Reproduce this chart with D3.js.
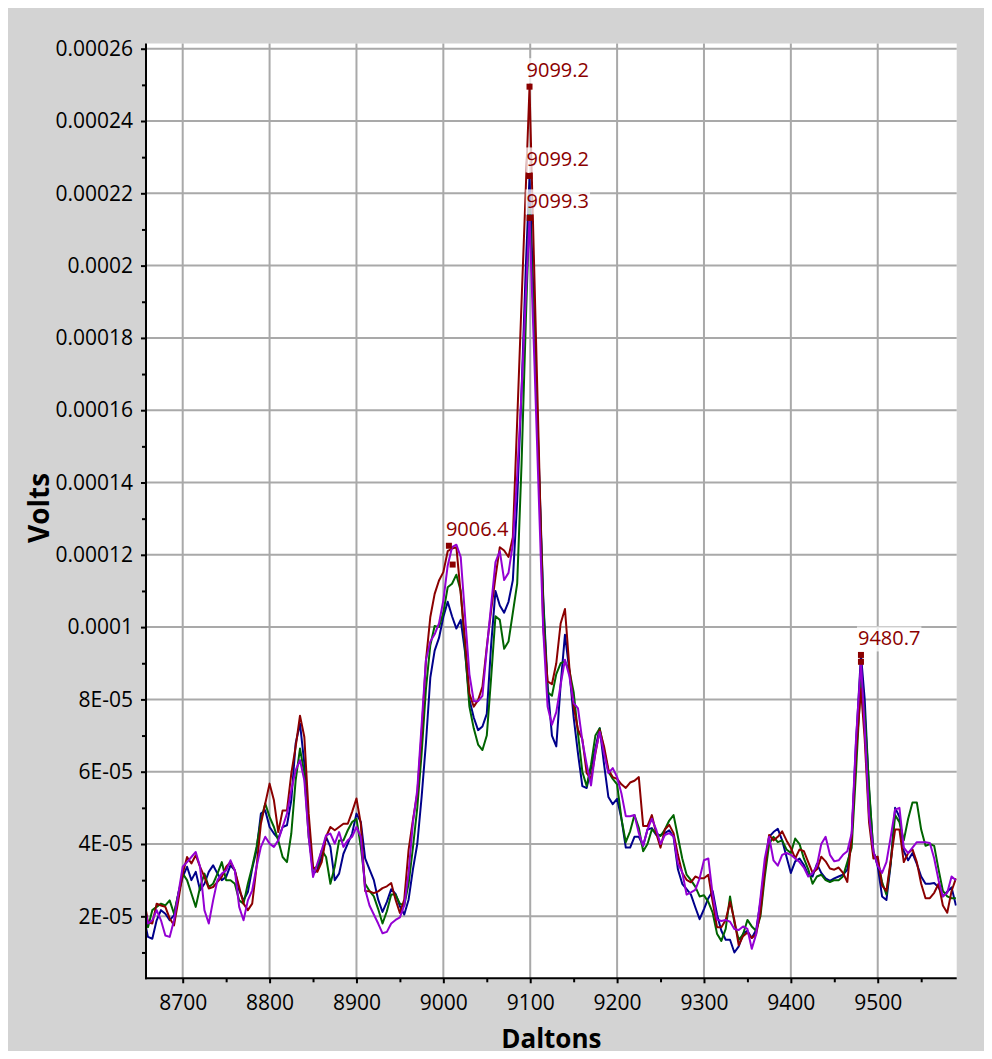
<!DOCTYPE html>
<html>
<head>
<meta charset="utf-8">
<script src="https://cdn.jsdelivr.net/npm/d3@7"></script>
<style>
  html, body { margin: 0; padding: 0; background: #ffffff; }
  svg { display: block; font-family: "Open Sans", "Noto Sans", sans-serif; }
</style>
</head>
<body>
<svg id="chart" width="992" height="1059"></svg>
<script>
// Spectrum intensities are stored in units of 1e-5 V.
const UNIT = 1e-5;

// Mass axis samples (Da)
const masses = [
  8655, 8660, 8665, 8670, 8675, 8680, 8685, 8690, 8695, 8700, 8705, 8710, 8715, 8720, 8725, 8730, 8735, 8740, 8745, 8750,
  8755, 8760, 8765, 8770, 8775, 8780, 8785, 8790, 8795, 8800, 8805, 8810, 8815, 8820, 8825, 8830, 8835, 8840, 8845, 8850,
  8855, 8860, 8865, 8870, 8875, 8880, 8885, 8890, 8895, 8900, 8905, 8910, 8915, 8920, 8925, 8930, 8935, 8940, 8945, 8950,
  8955, 8960, 8965, 8970, 8975, 8980, 8985, 8990, 8995, 9000, 9005, 9010, 9015, 9020, 9025, 9030, 9035, 9040, 9045, 9050,
  9055, 9060, 9065, 9070, 9075, 9080, 9085, 9090, 9095, 9099.2, 9105, 9110, 9115, 9120, 9125, 9130, 9135, 9140, 9145, 9150,
  9155, 9160, 9165, 9170, 9175, 9180, 9185, 9190, 9195, 9200, 9205, 9210, 9215, 9220, 9225, 9230, 9235, 9240, 9245, 9250,
  9255, 9260, 9265, 9270, 9275, 9280, 9285, 9290, 9295, 9300, 9305, 9310, 9315, 9320, 9325, 9330, 9335, 9340, 9345, 9350,
  9355, 9360, 9365, 9370, 9375, 9380, 9385, 9390, 9395, 9400, 9405, 9410, 9415, 9420, 9425, 9430, 9435, 9440, 9445, 9450,
  9455, 9460, 9465, 9470, 9475, 9480.7, 9485, 9490, 9495, 9500, 9505, 9510, 9515, 9520, 9525, 9530, 9535, 9540, 9545, 9550,
  9555, 9560, 9565, 9570, 9575, 9580, 9585, 9590
];

// Trace 1 (dark blue)
const traceBlue = [
  2.00, 1.43, 1.38, 1.89, 2.17, 2.07, 1.89, 2.03, 2.63, 3.09, 3.37, 3.00, 3.23, 2.72, 2.90, 3.23, 3.41, 3.18, 3.00, 3.09,
  3.41, 3.27, 2.72, 2.44, 2.67, 3.32, 3.83, 4.84, 4.93, 4.47, 4.29, 4.15, 4.47, 4.52, 5.21, 6.78, 7.33, 6.22, 4.38, 3.18,
  3.27, 3.64, 4.20, 3.92, 3.00, 3.18, 3.73, 4.01, 4.29, 4.84, 4.61, 3.60, 3.30, 3.00, 2.46, 2.12, 2.40, 2.75, 2.62, 2.28,
  2.05, 2.46, 3.30, 4.00, 5.30, 6.80, 8.60, 9.35, 9.70, 10.28, 10.70, 10.30, 9.96, 10.20, 9.30, 8.00, 7.50, 7.15, 7.25, 7.60,
  9.50, 11.00, 10.60, 10.40, 10.70, 11.30, 13.50, 16.50, 20.00, 22.48, 18.20, 14.50, 10.80, 8.40, 7.00, 6.70, 8.40, 9.79, 8.80, 7.50,
  6.50, 5.60, 5.55, 6.10, 6.65, 7.20, 6.20, 5.30, 5.10, 5.25, 4.70, 3.90, 3.90, 4.20, 4.20, 3.95, 4.40, 4.44, 4.25, 4.25,
  4.30, 4.38, 4.20, 3.30, 2.90, 2.75, 2.60, 2.25, 1.92, 2.20, 2.50, 2.70, 2.05, 1.60, 1.35, 1.35, 1.00, 1.17, 1.52, 1.60,
  1.40, 1.62, 2.40, 3.40, 4.20, 4.33, 4.42, 4.10, 3.65, 3.20, 3.52, 3.60, 3.42, 3.15, 3.10, 3.45, 3.20, 3.05, 2.98, 3.05,
  3.10, 3.15, 3.29, 4.20, 6.80, 9.23, 8.00, 5.50, 3.80, 3.38, 2.55, 2.45, 3.45, 5.00, 4.75, 3.80, 3.55, 3.75, 3.45, 3.10,
  2.90, 2.90, 2.92, 2.80, 2.55, 2.68, 2.80, 2.30
];

// Trace 2 (dark green)
const traceGreen = [
  2.00, 1.70, 2.17, 2.26, 2.35, 2.30, 2.44, 2.07, 2.63, 3.18, 3.00, 2.63, 2.26, 2.81, 3.18, 2.81, 2.90, 3.18, 3.50, 3.00,
  3.00, 2.90, 2.44, 2.35, 2.90, 3.37, 3.92, 4.66, 5.12, 4.75, 4.47, 4.10, 3.64, 3.50, 4.29, 5.76, 6.64, 5.95, 4.20, 3.32,
  3.37, 3.83, 3.64, 2.90, 3.37, 4.10, 4.10, 4.38, 4.61, 4.70, 3.92, 2.90, 2.70, 2.55, 2.20, 1.80, 2.14, 2.60, 2.60, 2.35,
  2.30, 2.90, 3.90, 5.00, 6.50, 8.30, 9.50, 10.03, 10.00, 10.40, 11.10, 11.20, 11.45, 11.00, 9.40, 7.80, 7.20, 6.75, 6.60, 7.00,
  8.60, 10.30, 10.20, 9.40, 9.60, 10.40, 11.20, 14.50, 18.50, 21.60, 17.90, 14.30, 10.70, 8.20, 8.10, 8.70, 9.00, 9.05, 8.80, 8.20,
  7.05, 6.00, 5.60, 6.20, 7.00, 7.20, 6.60, 6.00, 5.80, 5.65, 4.70, 4.05, 4.35, 4.80, 4.45, 3.80, 4.00, 4.40, 4.30, 4.22,
  4.40, 4.65, 4.80, 4.20, 3.60, 3.15, 3.00, 2.82, 2.55, 2.58, 2.40, 2.10, 1.52, 1.32, 1.65, 2.55, 1.82, 1.35, 1.50, 1.90,
  1.72, 1.60, 2.00, 3.10, 4.00, 4.20, 4.05, 4.10, 3.85, 3.75, 4.15, 4.00, 3.60, 3.30, 2.90, 3.10, 3.15, 3.00, 2.95, 3.00,
  3.00, 3.10, 3.50, 3.90, 6.00, 8.60, 7.60, 5.60, 3.75, 3.55, 2.95, 2.60, 3.50, 4.80, 4.60, 4.10, 4.70, 5.15, 5.15, 4.40,
  3.95, 4.00, 3.95, 3.30, 2.70, 2.55, 2.50, 2.50
];

// Trace 3 (dark red)
const traceRed = [
  2.55, 1.84, 1.80, 2.35, 2.30, 2.26, 1.94, 1.75, 2.44, 3.18, 3.64, 3.46, 3.69, 3.37, 3.09, 2.77, 2.81, 2.95, 3.09, 3.37,
  3.50, 3.27, 2.81, 2.35, 2.17, 2.35, 3.37, 4.56, 5.12, 5.67, 5.21, 4.33, 4.93, 4.93, 5.95, 6.69, 7.55, 6.96, 4.84, 3.37,
  3.23, 3.50, 4.20, 4.47, 4.38, 4.47, 4.56, 4.56, 4.89, 5.26, 4.56, 2.70, 2.69, 2.64, 2.69, 2.78, 2.83, 2.92, 2.46, 2.09,
  2.46, 3.84, 4.67, 5.40, 7.06, 9.08, 10.28, 10.92, 11.29, 11.52, 12.10, 12.17, 12.21, 10.92, 9.64, 8.16, 7.80, 7.98, 8.35, 9.45,
  10.46, 11.38, 12.21, 12.12, 11.94, 12.49, 15.70, 18.98, 22.20, 24.95, 19.53, 14.85, 10.00, 8.50, 8.42, 9.00, 10.10, 10.50, 8.90, 7.80,
  7.16, 6.90, 5.96, 5.80, 6.50, 7.15, 6.70, 6.06, 5.85, 5.80, 5.65, 5.55, 5.70, 5.75, 5.85, 4.50, 4.50, 4.80, 4.30, 3.90,
  4.40, 4.53, 4.30, 3.70, 3.20, 3.01, 2.94, 3.10, 3.05, 3.05, 3.15, 2.40, 1.70, 1.70, 1.90, 2.40, 1.90, 1.20, 1.45, 1.55,
  1.40, 1.50, 2.10, 3.30, 4.25, 4.10, 4.20, 4.35, 4.10, 3.89, 3.60, 3.85, 3.80, 3.50, 3.20, 3.30, 3.65, 3.52, 3.32, 3.29,
  3.35, 3.20, 2.95, 4.20, 6.50, 8.30, 6.90, 4.60, 3.60, 3.65, 2.85, 2.70, 3.55, 4.40, 4.40, 3.50, 3.75, 3.85, 3.50, 2.90,
  2.50, 2.50, 2.65, 2.90, 2.30, 2.10, 2.70, 3.05
];

// Trace 4 (violet)
const traceViolet = [
  2.40, 1.80, 1.89, 2.17, 1.89, 1.47, 1.43, 1.89, 2.63, 3.37, 3.50, 3.64, 3.78, 3.37, 2.17, 1.80, 2.44, 3.00, 3.18, 3.27,
  3.55, 3.27, 2.26, 1.89, 2.44, 2.72, 3.37, 3.92, 4.20, 4.01, 3.92, 4.10, 4.47, 4.84, 5.49, 6.04, 6.32, 5.76, 4.20, 3.09,
  3.46, 3.83, 4.24, 4.29, 4.01, 4.33, 3.92, 4.10, 4.20, 4.47, 4.20, 2.74, 2.30, 2.05, 1.80, 1.53, 1.57, 1.80, 1.90, 1.97,
  2.30, 3.20, 4.60, 5.50, 7.30, 9.10, 9.60, 9.80, 10.10, 10.74, 11.70, 12.21, 12.28, 11.94, 10.30, 8.70, 7.95, 7.95, 8.10, 9.40,
  10.60, 11.80, 12.10, 11.30, 11.50, 12.30, 14.20, 16.50, 19.20, 21.32, 17.20, 13.50, 9.90, 7.80, 7.30, 7.65, 8.40, 9.10, 8.65, 7.90,
  7.75, 6.85, 6.20, 5.62, 6.55, 7.10, 6.50, 5.96, 6.10, 5.85, 5.40, 4.77, 4.77, 4.80, 4.30, 3.95, 4.40, 4.70, 4.40, 4.00,
  4.25, 4.30, 4.21, 3.45, 3.22, 2.60, 2.66, 2.73, 3.05, 3.55, 3.60, 2.60, 1.91, 1.87, 1.90, 1.85, 1.65, 1.62, 1.72, 1.65,
  1.10, 1.50, 2.50, 3.60, 4.20, 3.55, 3.40, 3.70, 3.75, 3.70, 3.60, 3.50, 3.35, 3.10, 3.20, 3.40, 4.00, 4.20, 3.70, 3.52,
  3.55, 3.70, 3.80, 4.30, 6.90, 9.04, 7.20, 4.80, 3.80, 3.40, 3.20, 3.50, 4.20, 4.95, 5.00, 3.90, 3.75, 3.90, 4.05, 4.05,
  4.05, 4.03, 3.60, 3.00, 2.55, 2.65, 3.10, 3.00
];

const traces = [traceBlue, traceGreen, traceRed, traceViolet];
const traceColors = ["#00008b", "#006400", "#8b0000", "#9400d3"];

// Picked peaks: mass (Da), height (1e-5 V), label
const peakMasses = [9099.2, 9099.2, 9099.3, 9006.4, 9010.7, 9480.7, 9480.7];
const peakHeights = [24.95, 22.48, 21.32, 12.25, 11.73, 9.23, 9.04];
const peakLabels = ["9099.2", "9099.2", "9099.3", "9006.4", "", "9480.7", ""];

// Axis ticks
const massTicks = [8700, 8800, 8900, 9000, 9100, 9200, 9300, 9400, 9500];
const massMinorTicks = [8750, 8850, 8950, 9050, 9150, 9250, 9350, 9450, 9550];
const voltTicks = [2, 4, 6, 8, 10, 12, 14, 16, 18, 20, 22, 24, 26];
const voltTickLabels = ["2E-05", "4E-05", "6E-05", "8E-05", "0.0001", "0.00012", "0.00014",
                        "0.00016", "0.00018", "0.0002", "0.00022", "0.00024", "0.00026"];
const voltMinorTicks = [1, 3, 5, 7, 9, 11, 13, 15, 17, 19, 21, 23, 25];

const W = 992, H = 1059;
const plot = { left: 146, right: 956.7, top: 43.5, bottom: 978.3 };

const svg = d3.select("#chart");

// Panel background
svg.append("rect").attr("x", 8).attr("y", 8).attr("width", W - 16).attr("height", H - 16)
  .attr("fill", "#d3d3d3");
svg.append("rect").attr("x", plot.left).attr("y", plot.top)
  .attr("width", plot.right - plot.left).attr("height", plot.bottom - plot.top)
  .attr("fill", "#ffffff");

const x = d3.scaleLinear().domain([8657.75, 9590.9]).range([plot.left, plot.right]);
const y = d3.scaleLinear().domain([0.285 * UNIT, 26.144 * UNIT]).range([plot.bottom, plot.top]);

// Grid
const grid = svg.append("g").attr("class", "grid");
grid.selectAll("line.vx").data(massTicks).join("line")
  .attr("x1", d => x(d)).attr("x2", d => x(d))
  .attr("y1", plot.top).attr("y2", plot.bottom)
  .attr("stroke", "#a9a9a9").attr("stroke-width", 2);
grid.selectAll("line.hy").data(voltTicks).join("line")
  .attr("x1", plot.left).attr("x2", plot.right)
  .attr("y1", d => y(d * UNIT)).attr("y2", d => y(d * UNIT))
  .attr("stroke", "#a9a9a9").attr("stroke-width", 2);

// Traces
svg.append("clipPath").attr("id", "plot-clip").append("rect")
  .attr("x", plot.left).attr("y", plot.top)
  .attr("width", plot.right - plot.left).attr("height", plot.bottom - plot.top);

const line = d3.line()
  .x((d, i) => x(masses[i]))
  .y(d => y(d * UNIT));

svg.append("g").attr("clip-path", "url(#plot-clip)")
  .selectAll("path").data(traces).join("path")
  .attr("d", d => line(d))
  .attr("fill", "none")
  .attr("stroke", (d, i) => traceColors[i])
  .attr("stroke-width", 2)
  .attr("stroke-linejoin", "round");

// Axes
const axisBottom = d3.axisBottom(x).tickValues(massTicks).tickFormat(d3.format("d"))
  .tickSize(5).tickSizeOuter(0).tickPadding(12);
const gx = svg.append("g").attr("transform", `translate(0,${plot.bottom})`).call(axisBottom);
gx.select(".domain").remove();
gx.selectAll(".tick line").attr("stroke", "#000").attr("stroke-width", 2);
gx.selectAll(".tick text").attr("font-size", 21).attr("fill", "#000")
  .attr("font-family", "'Open Sans', 'Noto Sans', sans-serif");

const gxMinor = svg.append("g").attr("transform", `translate(0,${plot.bottom})`)
  .call(d3.axisBottom(x).tickValues(massMinorTicks).tickFormat("").tickSize(4).tickSizeOuter(0));
gxMinor.select(".domain").remove();
gxMinor.selectAll(".tick line").attr("stroke", "#000").attr("stroke-width", 2);

const axisLeft = d3.axisLeft(y).tickValues(voltTicks.map(v => v * UNIT))
  .tickFormat((d, i) => voltTickLabels[i]).tickSize(5).tickSizeOuter(0).tickPadding(8);
const gy = svg.append("g").attr("transform", `translate(${plot.left},0)`).call(axisLeft);
gy.select(".domain").remove();
gy.selectAll(".tick line").attr("stroke", "#000").attr("stroke-width", 2);
gy.selectAll(".tick text").attr("font-size", 21).attr("fill", "#000")
  .attr("font-family", "'Open Sans', 'Noto Sans', sans-serif");

const gyMinor = svg.append("g").attr("transform", `translate(${plot.left},0)`)
  .call(d3.axisLeft(y).tickValues(voltMinorTicks.map(v => v * UNIT)).tickFormat("").tickSize(4).tickSizeOuter(0));
gyMinor.select(".domain").remove();
gyMinor.selectAll(".tick line").attr("stroke", "#000").attr("stroke-width", 2);

// Axis lines
svg.append("line").attr("x1", plot.left).attr("x2", plot.left)
  .attr("y1", plot.top).attr("y2", plot.bottom + 1)
  .attr("stroke", "#000").attr("stroke-width", 2);
svg.append("line").attr("x1", plot.left - 1).attr("x2", plot.right)
  .attr("y1", plot.bottom).attr("y2", plot.bottom)
  .attr("stroke", "#000").attr("stroke-width", 2);

// Axis titles
svg.append("text").attr("x", (plot.left + plot.right) / 2).attr("y", 1048)
  .attr("text-anchor", "middle").attr("font-size", 26).attr("font-weight", "bold")
  .attr("fill", "#000").text("Daltons");
svg.append("text").attr("transform", `translate(49,${(plot.top + plot.bottom) / 2 - 3}) rotate(-90)`)
  .attr("text-anchor", "middle").attr("font-size", 28).attr("font-weight", "bold")
  .attr("fill", "#000").text("Volts");

// Peak markers and labels
const peaks = peakMasses.map((m, i) => ({ m, v: peakHeights[i] * UNIT, label: peakLabels[i] }));
const pg = svg.append("g");
peaks.forEach(p => {
  const cx = x(p.m), cy = y(p.v);
  if (p.label) {
    const t = pg.append("text").attr("x", cx - 3).attr("y", cy - 9.5)
      .attr("font-size", 20).attr("fill", "#8b0000").text(p.label);
    const b = t.node().getBBox();
    pg.insert("rect", () => t.node())
      .attr("x", b.x - 1).attr("y", b.y + 2).attr("width", b.width + 2).attr("height", b.height - 2)
      .attr("fill", "#ffffff").attr("fill-opacity", 0.75);
  }
});
pg.selectAll("rect.mk").data(peaks).join("rect").attr("class", "mk")
  .attr("x", d => x(d.m) - 3).attr("y", d => y(d.v) - 3)
  .attr("width", 6).attr("height", 6).attr("fill", "#8b0000");
</script>
</body>
</html>
